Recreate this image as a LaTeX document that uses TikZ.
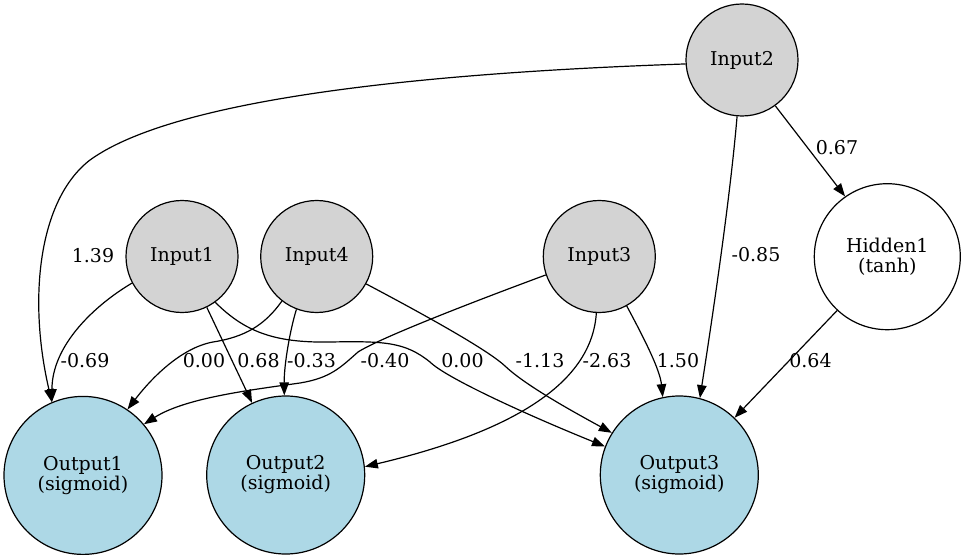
\documentclass[tikz,border=0pt]{standalone}
\usepackage{fontspec}
\setmainfont{DejaVu Serif}
\usetikzlibrary{arrows.meta}
\definecolor{inpgray}{HTML}{D3D3D3}
\definecolor{outblue}{HTML}{ADD8E6}
\begin{document}
\begin{tikzpicture}[x=1pt,y=-1pt,
  every node/.style={font=\fontsize{19}{20}\selectfont},
  base/.style={circle,draw,line width=1.2pt,inner sep=0pt,align=center},
  inp/.style={base,fill=inpgray,minimum size=112pt},
  outn/.style={base,fill=outblue,minimum size=158pt},
  hid/.style={base,fill=white,minimum size=146pt},
  lbl/.style={inner sep=0pt},
  arr/.style={line width=1.2pt,-{Triangle[length=13pt,width=9.5pt]}}]
\useasboundingbox (0,0) rectangle (966,559);
% nodes
\node[inp] (in2) at (742,60) {Input2};
\node[inp] (in1) at (182,256.5) {Input1};
\node[inp] (in4) at (316.7,256.5) {Input4};
\node[inp] (in3) at (599.3,256.5) {Input3};
\node[hid] (h1) at (887.3,256.7) {Hidden1\\(tanh)};
\node[outn] (o1) at (83,475.4) {Output1\\(sigmoid)};
\node[outn] (o2) at (285.7,475) {Output2\\(sigmoid)};
\node[outn] (o3) at (679.3,475) {Output3\\(sigmoid)};
% edges
\draw[arr] (in2.184) .. controls (450,72) and (180,95) .. (90,160)
  .. controls (38,200) and (28,300) .. (o1.113);
\draw[arr] (in1.208.5) .. controls (95,305) and (52,345) .. (o1.113);
\draw[arr] (in1.296) -- (o2.115.4);
\draw[arr] (in1.306) .. controls (245,332) and (275,343) .. (330,342)
  .. controls (385,341) and (405,342) .. (430,362)
  .. controls (445,377) and (520,412) .. (o3.159.4);
\draw[arr] (in4.232.2) .. controls (265,325) and (245,337) .. (213,342)
  .. controls (180,348) and (150,380) .. (o1.56.9);
\draw[arr] (in4.249) .. controls (290,330) and (284,365) .. (o2.91.3);
\draw[arr] (in4.331.8) .. controls (440,323) and (490,352) .. (505,366)
  .. controls (525,385) and (570,410) .. (o3.148.8);
\draw[arr] (in3.199.7) .. controls (470,303) and (380,338) .. (358,352)
  .. controls (340,368) and (330,378) .. (300,383)
  .. controls (250,390) and (185,398) .. (o1.40.9);
\draw[arr] (in3.267.3) .. controls (592,380) and (520,430) .. (o2.6);
\draw[arr] (in3.299.8) .. controls (645,340) and (660,370) .. (o3.102);
\draw[arr] (in2.265.3) .. controls (730,200) and (712,320) .. (o3.75);
\draw[arr] (in2.306) -- (h1.125.9);
\draw[arr] (h1.227.2) -- (o3.46.3);
% labels
\node[lbl] (w1) at (93,256) {1.39};
\node[lbl] (w2) at (85,361) {-0.69};
\node[lbl] (w3) at (204,361) {0.00};
\node[lbl] (w4) at (258.5,361) {0.68};
\node[lbl] (w5) at (311.5,361) {-0.33};
\node[lbl] (w6) at (385,361) {-0.40};
\node[lbl] (w7) at (462.5,361) {0.00};
\node[lbl] (w8) at (540,361) {-1.13};
\node[lbl] (w9) at (607,361) {-2.63};
\node[lbl] (w10) at (678,361) {1.50};
\node[lbl] (w11) at (756,255) {-0.85};
\node[lbl] (w12) at (837,148) {0.67};
\node[lbl] (w13) at (810.5,361) {0.64};
\end{tikzpicture}
\end{document}
